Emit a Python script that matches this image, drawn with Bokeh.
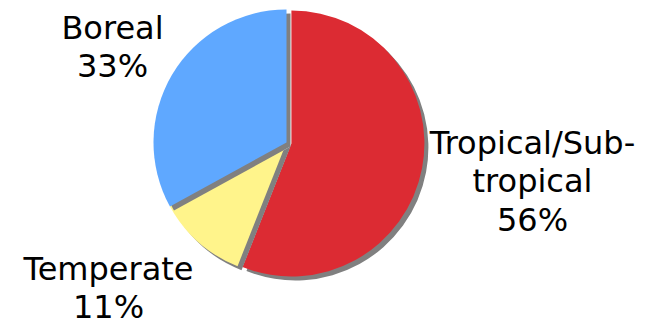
import math
from bokeh.plotting import figure
from bokeh.models import Range1d, ColumnDataSource
from bokeh.core.properties import value
from bokeh.embed import file_html
from bokeh.resources import INLINE

# Data
categories = ["Tropical/Sub-tropical", "Temperate", "Boreal"]
category_lines = [["Tropical/Sub-", "tropical"], ["Temperate"], ["Boreal"]]
shares = [56, 11, 33]
colors = ["#DC2B33", "#FFF48B", "#5FA8FF"]

W, H = 654, 325
p = figure(width=W, height=H, output_backend="svg", toolbar_location=None,
           x_range=Range1d(0, W), y_range=Range1d(0, H), min_border=0)
p.axis.visible = False
p.grid.visible = False
p.outline_line_color = None
p.background_fill_color = "white"

cx, cy, r = 286, H - 142, 133
shadow_dx, shadow_dy = 4, -4
explode = [5, 0, 0]

total = sum(shares)
start = math.pi / 2
for i, (s, c) in enumerate(zip(shares, colors)):
    sweep = 2 * math.pi * s / total
    end = start - sweep
    mid = (start + end) / 2
    ox = cx + explode[i] * math.cos(mid)
    oy = cy + explode[i] * math.sin(mid)
    p.wedge(x=[ox + shadow_dx], y=[oy + shadow_dy], radius=r,
            start_angle=end, end_angle=start,
            fill_color="#808080", line_color=None)
    p.wedge(x=[ox], y=[oy], radius=r, start_angle=end, end_angle=start,
            fill_color=c, line_color=None)
    start = end

# label placement (center x, top of first line from top)
lab_x = [532, 108, 112]
lab_top = [123, 249, 8]
line_gap = 38.5
xs, ys, ts = [], [], []
for lines, s, lx, lt in zip(category_lines, shares, lab_x, lab_top):
    for k, t in enumerate(lines + [f"{s}%"]):
        xs.append(lx)
        ys.append(H - (lt + k * line_gap))
        ts.append(t)
src = ColumnDataSource(dict(x=xs, y=ys, t=ts))
p.text(x="x", y="y", text="t", source=src, text_align="center",
       text_baseline="top", text_font=value("DejaVu Sans"),
       text_font_size="32px", text_color="black")

open("out.html", "w").write(file_html(p, INLINE))
